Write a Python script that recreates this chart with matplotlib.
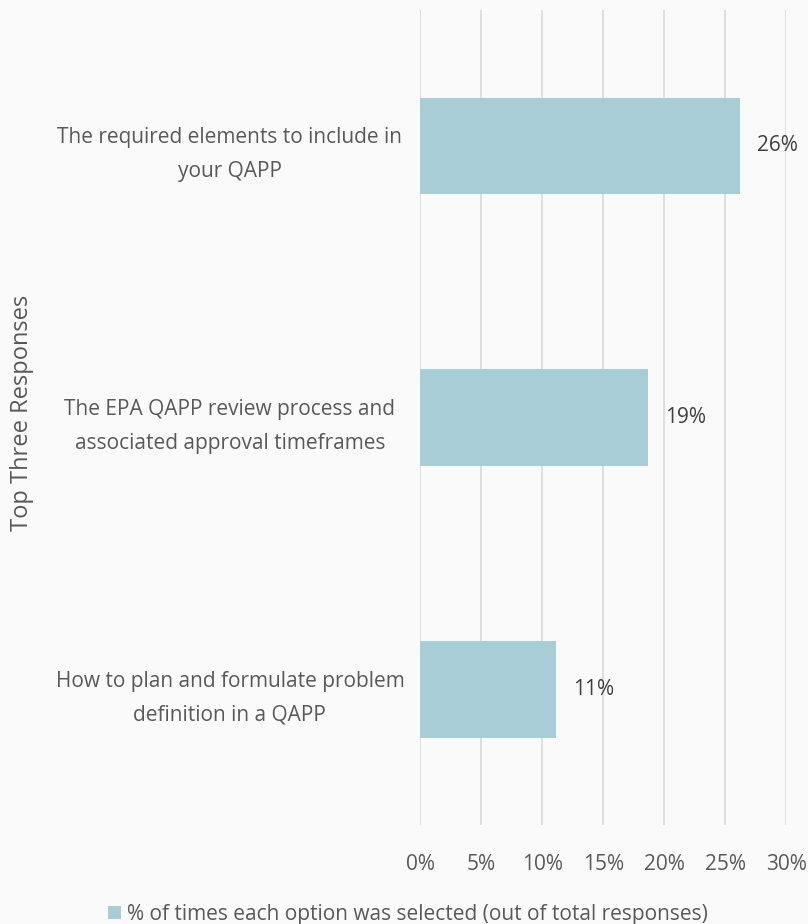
import matplotlib.pyplot as plt
from matplotlib.ticker import PercentFormatter

categories = [
    "The required elements to include in\nyour QAPP",
    "The EPA QAPP review process and\nassociated approval timeframes",
    "How to plan and formulate problem\ndefinition in a QAPP",
]
values = [26.2, 18.7, 11.1]
labels = ["26%", "19%", "11%"]
xticks = [0, 5, 10, 15, 20, 25, 30]

plt.rcParams['font.family'] = ['Open Sans', 'DejaVu Sans']
bar_color = '#a9cdd6'
text_color = '#595959'

fig = plt.figure(figsize=(8.08, 9.24), dpi=100, facecolor='#fafafa')
ax = fig.add_axes([0.52, 0.107, 0.453, 0.882])
ax.set_facecolor('#fafafa')

ypos = list(range(len(categories)))
ax.barh(ypos, values, height=0.355, color=bar_color, zorder=3,
        label="% of times each option was selected (out of total responses)")
for y, v, lab in zip(ypos, values, labels):
    ax.text(v + 1.4, y, lab, va='center', ha='left', fontsize=15, color='#404040')

ax.set_ylim(len(categories) - 0.5, -0.5)
ax.set_xlim(0, 30)
ax.set_xticks(xticks)
ax.xaxis.set_major_formatter(PercentFormatter(decimals=0))
ax.set_yticks(ypos)
ax.set_yticklabels(categories, fontsize=15, color=text_color, ha='center',
                   linespacing=1.8)
ax.tick_params(axis='y', length=0, pad=137)
ax.tick_params(axis='x', length=0, pad=21, labelsize=15, labelcolor=text_color)
ax.grid(axis='x', color='#d9d9d9', linewidth=1.2, zorder=0)
for s in ax.spines.values():
    s.set_visible(False)

fig.text(0.027, 0.553, "Top Three Responses", rotation=90, va='center', ha='center',
         fontsize=17, color=text_color)
fig.legend(loc='lower center', bbox_to_anchor=(0.505, -0.021), frameon=False,
           fontsize=15, labelcolor=text_color, handlelength=0.6, handleheight=0.6,
           handletextpad=0.3)

fig.savefig('out.png', dpi=100, facecolor=fig.get_facecolor())
